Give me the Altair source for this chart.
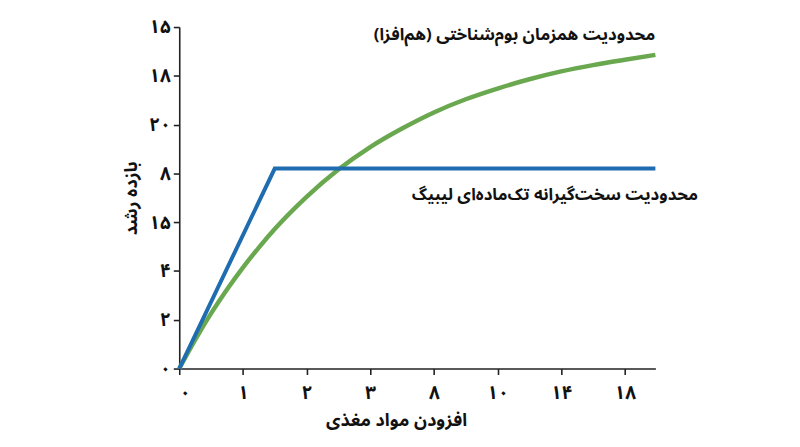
import altair as alt
import pandas as pd

# Tick labels as shown (Persian digits, as printed in the original)
x_tick_labels = ["۰", "۱", "۲", "۳", "۸", "۱۰", "۱۴", "۱۸"]
y_tick_labels = ["۰", "۲", "۴", "۱۵", "۸", "۲۰", "۱۸", "۱۵"]

# Liebig single-nutrient limitation (blue)
liebig_x = [0, 1.5, 7.48]
liebig_y = [0, 4.1, 4.1]

# Co-limitation (synergistic) curve (green)
colim_x = [0, 0.25, 0.5, 0.75, 1, 1.25, 1.5, 2, 2.5, 3, 3.5, 4, 4.5, 5, 5.5, 6, 6.5, 7, 7.48]
colim_y = [0, 0.59, 1.13, 1.62, 2.07, 2.48, 2.86, 3.52, 4.08, 4.54, 4.92, 5.25, 5.52, 5.74, 5.93, 6.09, 6.22, 6.33, 6.43]

label_green = "محدودیت همزمان بوم‌شناختی (هم‌افزا)"
label_blue = "محدودیت سخت‌گیرانه تک‌ماده‌ای لیبیگ"
x_title = "افزودن مواد مغذی"
y_title = "بازده رشد"

FONT = "Noto Sans Arabic, Noto Naskh Arabic, DejaVu Sans"

df_liebig = pd.DataFrame({"x": liebig_x, "y": liebig_y})
df_colim = pd.DataFrame({"x": colim_x, "y": colim_y})
df_labels = pd.DataFrame({
    "x": [7.48, 8.15],
    "y": [6.84, 3.55],
    "text": [label_green, label_blue],
})

x_expr = "[" + ",".join(f"'{s}'" for s in x_tick_labels) + "][datum.value]"
y_expr = "[" + ",".join(f"'{s}'" for s in y_tick_labels) + "][datum.value]"

x_scale = alt.Scale(domain=[0, 7.48], nice=False, zero=False)
y_scale = alt.Scale(domain=[0, 7], nice=False)

x_axis = alt.Axis(values=list(range(8)), labelExpr=x_expr, title=x_title,
                  labelPadding=9, titlePadding=10, titleX=219)
y_axis = alt.Axis(values=list(range(8)), labelExpr=y_expr, title=y_title,
                  labelPadding=3, titlePadding=8)

green = alt.Chart(df_colim).mark_line(color="#6aa84f", strokeWidth=4.5, interpolate="monotone").encode(
    x=alt.X("x:Q", scale=x_scale, axis=x_axis), y=alt.Y("y:Q", scale=y_scale, axis=y_axis))
blue = alt.Chart(df_liebig).mark_line(color="#1f6db0", strokeWidth=4).encode(
    x=alt.X("x:Q", scale=x_scale), y=alt.Y("y:Q", scale=y_scale))

labels = alt.Chart(df_labels).mark_text(
    align="right", baseline="middle", font=FONT, fontSize=17, fontWeight="bold", color="#111"
).encode(x=alt.X("x:Q", scale=x_scale), y=alt.Y("y:Q", scale=y_scale), text="text:N")

chart = alt.layer(green, blue, labels).properties(
    width=481, height=345,
    autosize="none",
    background="white",
    padding={"left": 173, "top": 17, "right": 138, "bottom": 76},
).configure_view(strokeWidth=0).configure_axis(
    grid=False, domainColor="#222", domainWidth=1.6, tickColor="#222", tickWidth=1.6,
    tickSize=6, labelFont=FONT, labelFontSize=19, labelFontWeight="bold", labelColor="#111",
    titleFont=FONT, titleFontSize=18, titleFontWeight="bold", titleColor="#111",
)

chart.save("out.html", embed_options={"renderer": "svg", "actions": False})
